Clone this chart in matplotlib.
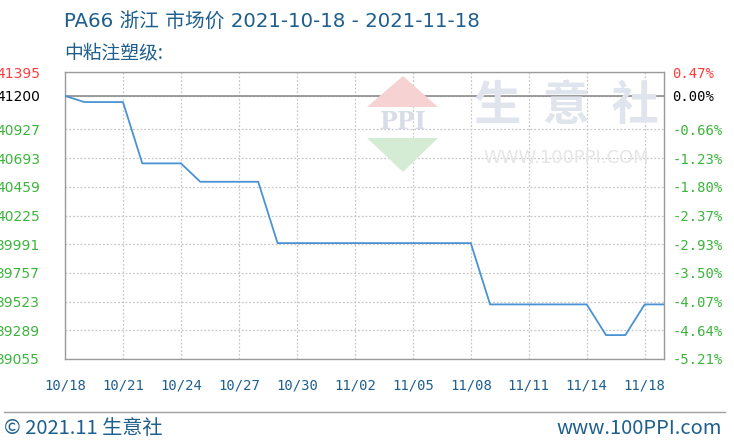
import matplotlib

matplotlib.use("Agg")
import matplotlib.pyplot as plt
from matplotlib.patches import Polygon
import pandas as pd

plt.rcParams["font.family"] = ["Noto Sans CJK SC", "DejaVu Sans"]

# daily price, 2021-10-18 .. 2021-11-18
dates = pd.date_range("2021-10-18", "2021-11-18", freq="D")
prices = (
    [41200, 41150, 41150, 41150, 40650, 40650, 40650]
    + [40500] * 4
    + [40000] * 11
    + [39500] * 6
    + [39250, 39250, 39500, 39500]
)
base_price = 41200
y_ticks = [41395, 41200, 40927, 40693, 40459, 40225, 39991, 39757, 39523, 39289, 39055]
pct_labels = ["0.47%", "0.00%", "-0.66%", "-1.23%", "-1.80%", "-2.37%",
              "-2.93%", "-3.50%", "-4.07%", "-4.64%", "-5.21%"]
x_tick_dates = pd.to_datetime([
    "2021-10-18", "2021-10-21", "2021-10-24", "2021-10-27", "2021-10-30",
    "2021-11-02", "2021-11-05", "2021-11-08", "2021-11-11", "2021-11-14",
    "2021-11-17",
])
x_tick_labels = ["10/18", "10/21", "10/24", "10/27", "10/30", "11/02",
                 "11/05", "11/08", "11/11", "11/14", "11/18"]

title = "PA66 浙江 市场价 2021-10-18 - 2021-11-18"
subtitle = "中粘注塑级:"

TEXT_BLUE = "#1e5f8e"
UP_RED = "#ff3b3b"
DOWN_GREEN = "#3cb43c"
LINE_BLUE = "#4a92d4"
WIDE = ["DejaVu Sans", "Noto Sans CJK SC"]

W, H = 734, 446
fig = plt.figure(figsize=(W / 100, H / 100), dpi=100)
ax = fig.add_axes([65 / W, 1 - 359 / H, 599 / W, 287 / H])


def px(x, y):
    return x / W, 1 - y / H


# watermark logo and text
fig.patches.append(Polygon([px(403, 76), px(438, 107), px(367, 107)],
                           closed=True, transform=fig.transFigure,
                           facecolor="#f6d2d2", edgecolor="none", zorder=0))
fig.patches.append(Polygon([px(367, 138), px(438, 138), px(403, 172)],
                           closed=True, transform=fig.transFigure,
                           facecolor="#d4ecd4", edgecolor="none", zorder=0))
fig.text(*px(403, 122), "PPI", ha="center", va="center", fontsize=17,
         color="#d7dde8", family="DejaVu Serif", fontweight="bold")
fig.text(*px(566, 106), "生  意  社", ha="center", va="center", fontsize=34,
         color="#e0e5ed", fontweight="bold")
fig.text(*px(566, 158), "WWW.100PPI.COM", ha="center", va="center",
         fontsize=13, color="#e6e6e6", family="DejaVu Sans")

ax.set_facecolor("none")
ax.plot(dates, prices, color=LINE_BLUE, linewidth=1.3, zorder=3)
ax.axhline(base_price, color="#8c8c8c", linewidth=1.2, zorder=2)

ax.set_xlim(dates[0], dates[-1])
ax.set_ylim(y_ticks[-1], y_ticks[0])
ax.set_xticks(x_tick_dates)
ax.set_xticklabels(x_tick_labels, family="DejaVu Sans Mono", fontsize=10,
                   color=TEXT_BLUE)
ax.set_yticks(y_ticks)
ax.set_yticklabels([str(v) for v in y_ticks], family="DejaVu Sans",
                   fontsize=10)
ax.tick_params(axis="x", length=0, pad=14)
ax.tick_params(axis="y", length=0, pad=18)
ax.grid(True, color="#c8c8c8", linestyle=(0, (1.5, 1.5)), linewidth=0.9)
for spine in ax.spines.values():
    spine.set_color("#9a9a9a")
    spine.set_linewidth(1.0)

ax2 = ax.twinx()
ax2.set_ylim(ax.get_ylim())
ax2.set_yticks(y_ticks)
ax2.set_yticklabels(pct_labels, family="DejaVu Sans Mono", fontsize=10)
ax2.tick_params(axis="y", length=0, pad=6)
for spine in ax2.spines.values():
    spine.set_visible(False)

for labels in (ax.get_yticklabels(), ax2.get_yticklabels()):
    for i, lab in enumerate(labels):
        if y_ticks[i] > base_price:
            lab.set_color(UP_RED)
        elif y_ticks[i] == base_price:
            lab.set_color("black")
        else:
            lab.set_color(DOWN_GREEN)

fig.text(*px(64, 21), title, ha="left", va="center", fontsize=14.2,
         color=TEXT_BLUE, family=WIDE)
fig.text(*px(64, 53), subtitle, ha="left", va="center", fontsize=13.5,
         color=TEXT_BLUE)

fig.add_artist(plt.Line2D([4 / W, 725 / W], [1 - 412 / H, 1 - 412 / H],
                          transform=fig.transFigure, color="#a0a0a0",
                          linewidth=1.0))
fig.text(*px(4, 429), "© 2021.11 生意社", ha="left", va="center",
         fontsize=14.5, color=TEXT_BLUE)
fig.text(*px(722, 429), "www.100PPI.com", ha="right", va="center",
         fontsize=14.5, color=TEXT_BLUE)

fig.savefig("out.png", dpi=100)
